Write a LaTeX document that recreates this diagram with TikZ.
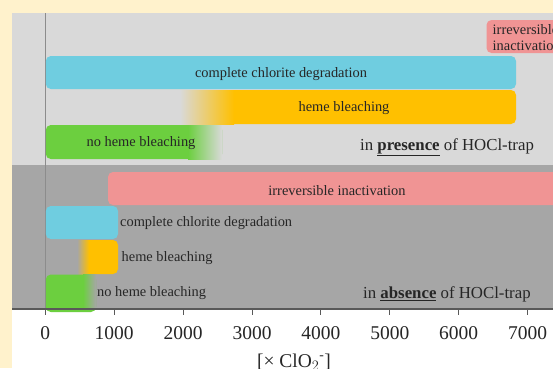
\documentclass[tikz,border=0pt]{standalone}
\usepackage{fontspec}
\setmainfont{Liberation Serif}
\usepackage{tikz}

\definecolor{cream}{HTML}{FFF2CC}
\definecolor{lightpanel}{HTML}{D9D9D9}
\definecolor{darkpanel}{HTML}{A6A6A6}
\definecolor{cyanbar}{HTML}{6FCDE0}
\definecolor{orangebar}{HTML}{FFC000}
\definecolor{greenbar}{HTML}{6CCF3F}
\definecolor{salmonbar}{HTML}{F09494}
\definecolor{txt}{HTML}{262626}

\tikzset{
  barlabel/.style={font=\fontsize{14.4}{16}\selectfont, text=txt, inner sep=0pt},
  trapnote/.style={font=\fontsize{16.8}{19}\selectfont, text=txt, inner sep=0pt, anchor=west},
  ticklabel/.style={font=\fontsize{19.5}{22}\selectfont, text=txt, inner sep=0pt},
  bar/.style={rounded corners=5pt}
}

\begin{document}
\begin{tikzpicture}[x=1pt, y=-1pt]
\clip (0, 0) rectangle (553, 368);
\fill[cream] (0, 0) rectangle (553, 368);
\fill[white] (12, 309) rectangle (553, 368);
\fill[lightpanel] (12, 13) rectangle (553, 165);
\fill[darkpanel] (12, 165) rectangle (553, 309);
\draw[color=gray!90, line width=0.8pt] (45.3, 13) -- (45.3, 309);

% with HOCl-trap
\fill[bar, salmonbar] (486.5, 20) rectangle (580, 53);
\fill[bar, cyanbar] (45.8, 56) rectangle (516, 89);
\fill[bar, orangebar] (180, 90) rectangle (516, 124);
\shade[left color=lightpanel, right color=orangebar] (180, 90) rectangle (234, 124);
\fill[bar, greenbar] (45.8, 125) rectangle (222, 159);
\shade[left color=greenbar, right color=lightpanel] (188, 125) rectangle (222, 159);

\node[barlabel, anchor=north west, align=left] (presIrr) at (492.5, 24) {irreversible\\inactivation};
\node[barlabel] (presChlorite) at (281, 74.5) {complete chlorite degradation};
\node[barlabel] (presHeme) at (344, 108.5) {heme bleaching};
\node[barlabel] (presNoHeme) at (141, 143.5) {no heme bleaching};
\node[trapnote] (presNote) at (360, 147) {in \textbf{\underline{presence}} of HOCl-trap};

% without HOCl-trap
\fill[bar, salmonbar] (108, 172) rectangle (580, 205);
\fill[bar, cyanbar] (45.8, 206) rectangle (118, 239);
\fill[bar, orangebar] (77, 240) rectangle (118, 274);
\shade[left color=darkpanel, right color=orangebar] (77, 240) rectangle (89, 274);
\fill[bar, greenbar] (45.8, 274.5) rectangle (96, 312);
\shade[left color=greenbar, right color=darkpanel] (83, 274.5) rectangle (96, 309);

\node[barlabel] (absIrr) at (337, 190.5) {irreversible inactivation};
\node[barlabel, anchor=west] (absChlorite) at (120, 223.5) {complete chlorite degradation};
\node[barlabel, anchor=west] (absHeme) at (121.5, 258.5) {heme bleaching};
\node[barlabel, anchor=west] (absNoHeme) at (97, 293.5) {no heme bleaching};
\node[trapnote] (absNote) at (363, 294) {in \textbf{\underline{absence}} of HOCl-trap};

% axis
\draw[color=black!65, line width=1.3pt] (12, 309) -- (553, 309);
\foreach \v in {0,...,7} {
  \draw[color=black!65, line width=1pt] (45.3 + 68.9*\v, 309) -- (45.3 + 68.9*\v, 315);
  \pgfmathtruncatemacro{\lab}{1000*\v}
  \node[ticklabel] (tick\v) at (45.3 + 68.9*\v, 333) {\lab};
}
\node[ticklabel] (axisTitle) at (294, 362) {[× ClO$_2$\textsuperscript{-}]};
\end{tikzpicture}
\end{document}
